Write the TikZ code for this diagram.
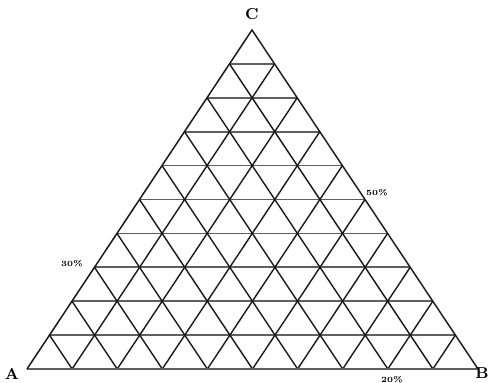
\documentclass[tikz,border=0pt]{standalone}
\usetikzlibrary{calc}
\definecolor{gridgray}{RGB}{95,95,95}
\definecolor{linedark}{RGB}{25,25,25}

\begin{document}
\begin{tikzpicture}[font=\rmfamily, every node/.style={inner sep=0pt}]

	% fixed frame of the picture
	\useasboundingbox (0,0) rectangle (9.78,7.66);

	% --- Corners ---
	\coordinate (A) at (0.54, 0.28);
	\coordinate (B) at (9.56, 0.28);
	\coordinate (C) at (5.04, 7.06);

	% --- Horizontal grid lines (grey) ---
	\foreach \i in {1,...,9} {
		\draw[gridgray, line width=1pt] ($(A)!\i/10!(C)$) -- ($(B)!\i/10!(C)$);
	}

	% --- Slanted grid lines (black) ---
	\foreach \i in {1,...,9} {
		\draw[linedark, line width=0.8pt] ($(A)!\i/10!(B)$) -- ($(B)!1-\i/10!(C)$);
		\draw[linedark, line width=0.8pt] ($(A)!\i/10!(B)$) -- ($(A)!\i/10!(C)$);
	}

	% --- Outline ---
	\draw[gridgray, line width=1pt] (A) -- (B);
	\draw[linedark, line width=0.85pt] (A) -- (C) -- (B);

	% --- Corner labels ---
	\node[font=\fontsize{9}{10}\selectfont\bfseries] (labelC) at (5.04, 7.38) {C};
	\node[font=\fontsize{9}{10}\selectfont\bfseries] (labelA) at (0.24, 0.18) {A};
	\node[font=\fontsize{9}{10}\selectfont\bfseries] (labelB) at (9.64, 0.2) {B};

	% --- Percent marks ---
	\node[font=\fontsize{4.5}{5}\selectfont\bfseries] (mark50) at (7.54, 3.80) {50\%};
	\node[font=\fontsize{4.5}{5}\selectfont\bfseries] (mark30) at (1.44, 2.38) {30\%};
	\node[font=\fontsize{4.5}{5}\selectfont\bfseries] (mark20) at (7.84, 0.07) {20\%};

\end{tikzpicture}
\end{document}
